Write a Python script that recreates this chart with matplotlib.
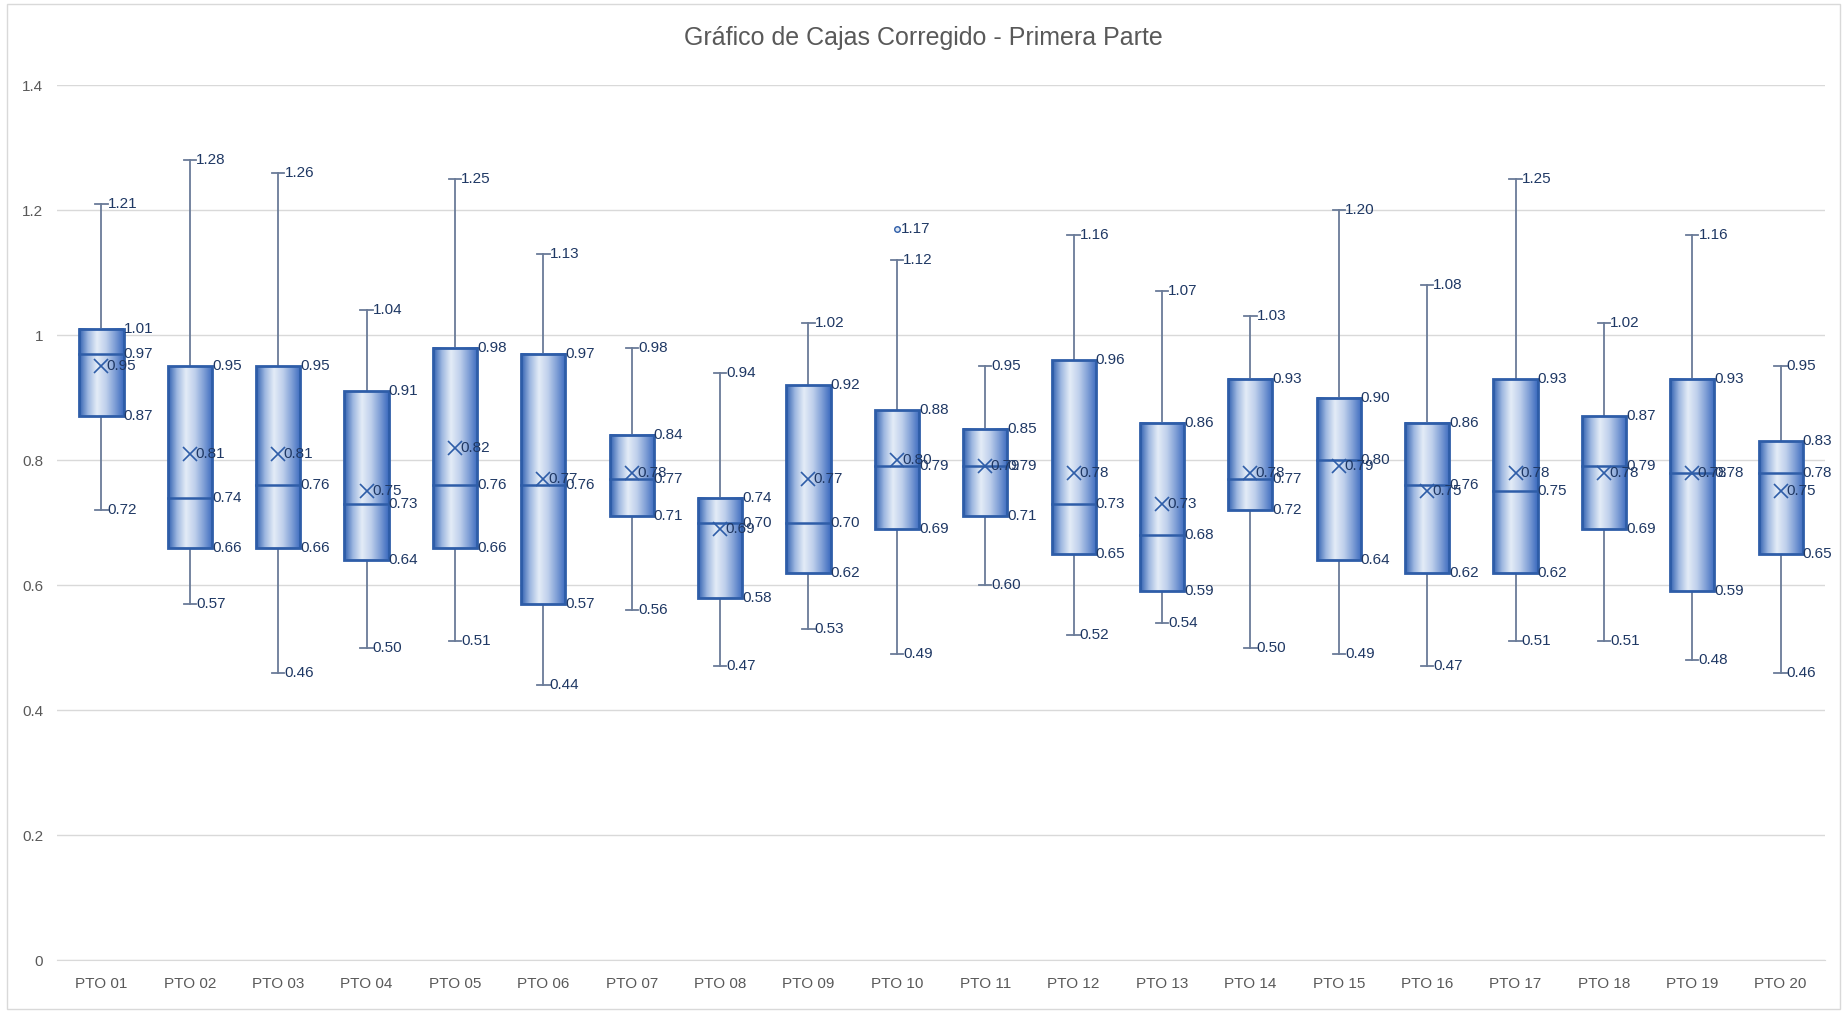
import numpy as np
import matplotlib
matplotlib.use('Agg')
import matplotlib.pyplot as plt
from matplotlib.colors import LinearSegmentedColormap
from matplotlib.patches import Rectangle

plt.rcParams['font.family'] = ['Liberation Sans Narrow', 'Liberation Sans', 'DejaVu Sans']

labels = ['PTO %02d' % i for i in range(1, 21)]
w_low = [0.72, 0.57, 0.46, 0.50, 0.51, 0.44, 0.56, 0.47, 0.53, 0.49,
         0.60, 0.52, 0.54, 0.50, 0.49, 0.47, 0.51, 0.51, 0.48, 0.46]
q1 = [0.87, 0.66, 0.66, 0.64, 0.66, 0.57, 0.71, 0.58, 0.62, 0.69,
      0.71, 0.65, 0.59, 0.72, 0.64, 0.62, 0.62, 0.69, 0.59, 0.65]
med = [0.97, 0.74, 0.76, 0.73, 0.76, 0.76, 0.77, 0.70, 0.70, 0.79,
       0.79, 0.73, 0.68, 0.77, 0.80, 0.76, 0.75, 0.79, 0.78, 0.78]
q3 = [1.01, 0.95, 0.95, 0.91, 0.98, 0.97, 0.84, 0.74, 0.92, 0.88,
      0.85, 0.96, 0.86, 0.93, 0.90, 0.86, 0.93, 0.87, 0.93, 0.83]
w_high = [1.21, 1.28, 1.26, 1.04, 1.25, 1.13, 0.98, 0.94, 1.02, 1.12,
          0.95, 1.16, 1.07, 1.03, 1.20, 1.08, 1.25, 1.02, 1.16, 0.95]
means = [0.95, 0.81, 0.81, 0.75, 0.82, 0.77, 0.78, 0.69, 0.77, 0.80,
         0.79, 0.78, 0.73, 0.78, 0.79, 0.75, 0.78, 0.78, 0.78, 0.75]
outliers = {9: [1.17]}

edge = '#2E5DA8'
whisk = '#6A7B98'
txt = '#1F3864'
grad = LinearSegmentedColormap.from_list(
    'box', ['#2F5FB0', '#9DB7E0', '#E4ECF7', '#BFD0EC', '#7F9FD6', '#3A69BE'])

fig = plt.figure(figsize=(18.47, 10.13), dpi=100)
ax = fig.add_axes([0.031, 0.052, 0.957, 0.864])
fig.patches.append(Rectangle((0.004, 0.004), 0.992, 0.992, transform=fig.transFigure,
                             fill=False, edgecolor='#D9D9D9', lw=1))

bw = 0.5
cap = 0.07
fs = 11
gvals = np.linspace(0, 1, 256).reshape(1, -1)
for i in range(len(labels)):
    x = i
    l, r = x - bw / 2, x + bw / 2
    # whiskers
    ax.plot([x, x], [q3[i], w_high[i]], color=whisk, lw=1.3, zorder=2)
    ax.plot([x, x], [w_low[i], q1[i]], color=whisk, lw=1.3, zorder=2)
    ax.plot([x - cap, x + cap], [w_high[i]] * 2, color=whisk, lw=1.3, zorder=2)
    ax.plot([x - cap, x + cap], [w_low[i]] * 2, color=whisk, lw=1.3, zorder=2)
    # gradient box
    ax.imshow(gvals, cmap=grad, extent=[l, r, q1[i], q3[i]], aspect='auto', zorder=3)
    ax.add_patch(Rectangle((l, q1[i]), bw, q3[i] - q1[i], fill=False,
                           edgecolor=edge, lw=2, zorder=4))
    ax.plot([l, r], [med[i]] * 2, color=edge, lw=1.8, zorder=4)
    ax.plot(x, means[i], marker='x', ms=10, mew=1.2, color=edge, zorder=5)
    # labels
    ax.text(x + cap, w_high[i], '%.2f' % w_high[i], va='center', ha='left',
            fontsize=fs, color=txt, zorder=6)
    ax.text(x + cap, w_low[i], '%.2f' % w_low[i], va='center', ha='left',
            fontsize=fs, color=txt, zorder=6)
    for v in (q1[i], med[i], q3[i]):
        ax.text(r, v, '%.2f' % v, va='center', ha='left', fontsize=fs, color=txt, zorder=6)
    ax.text(x + 0.06, means[i], '%.2f' % means[i], va='center', ha='left',
            fontsize=fs, color=txt, zorder=6)
    for o in outliers.get(i, []):
        ax.plot(x, o, marker='o', ms=4, mfc='#DCE6F2', mec=edge, mew=1, zorder=5)
        ax.text(x + 0.05, o, '%.2f' % o, va='center', ha='left', fontsize=fs,
                color=txt, zorder=6)

ax.set_xlim(-0.5, len(labels) - 0.5)
ax.set_ylim(0, 1.4)
ax.set_yticks([0, 0.2, 0.4, 0.6, 0.8, 1.0, 1.2, 1.4])
ax.set_yticklabels(['0', '0.2', '0.4', '0.6', '0.8', '1', '1.2', '1.4'])
ax.set_xticks(range(len(labels)))
ax.set_xticklabels(labels)
ax.tick_params(axis='both', length=0, labelsize=11, labelcolor='#595959')
ax.tick_params(axis='x', pad=12)
ax.tick_params(axis='y', pad=10)
ax.grid(axis='y', color='#D9D9D9', lw=1)
ax.set_axisbelow(True)
for s in ['top', 'right', 'left']:
    ax.spines[s].set_visible(False)
ax.spines['bottom'].set_color('#D9D9D9')
fig.text(0.5, 0.962, 'Gráfico de Cajas Corregido - Primera Parte', ha='center', va='center',
         fontsize=18, color='#595959')

fig.savefig('out.png', dpi=100)
